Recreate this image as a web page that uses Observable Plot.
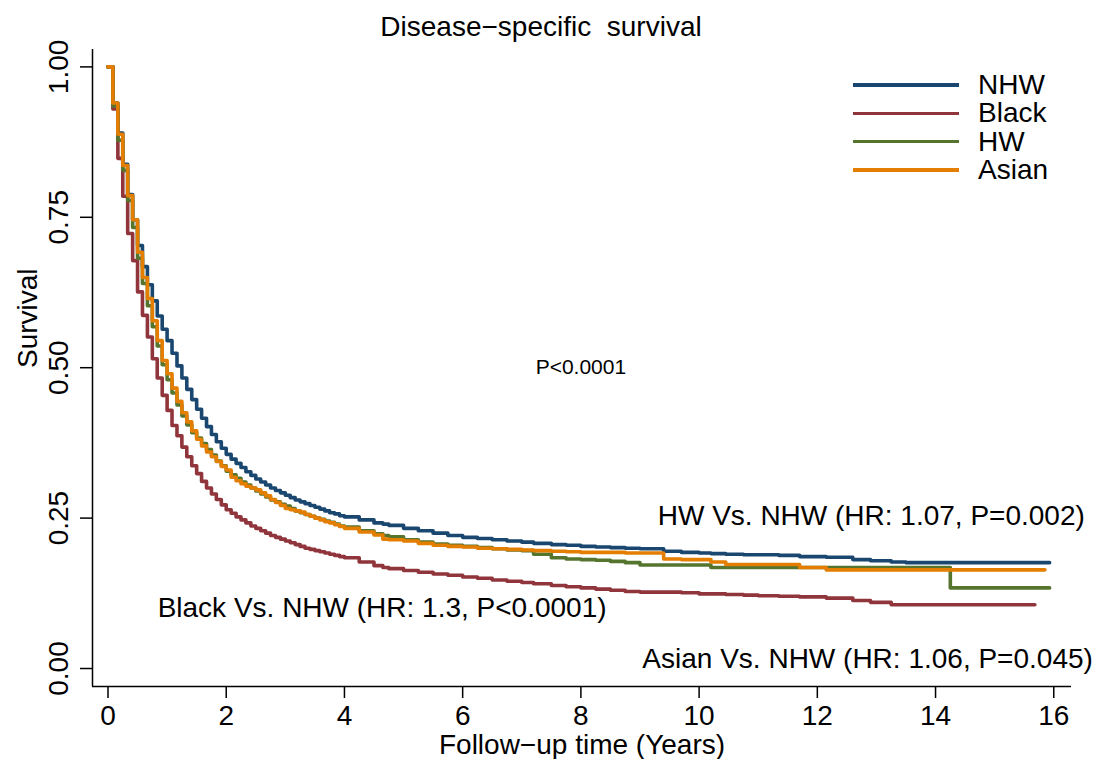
<!DOCTYPE html>
<html>
<head>
<meta charset="utf-8">
<script src="https://cdn.jsdelivr.net/npm/d3@7"></script>
<script src="https://cdn.jsdelivr.net/npm/@observablehq/plot@0.6"></script>
<style>
  body { margin: 0; background: #fff; }
  #wrap { position: relative; width: 1096px; height: 759px; font-family: "Liberation Sans", Arial, Helvetica, sans-serif; }
  #legend { position: absolute; left: 853px; top: 71px; }
  .row { display: flex; align-items: center; height: 28.3px; }
  .swatch { width: 106px; height: 3.5px; margin-right: 19px; }
  .lab { font-size: 28px; line-height: 28px; color: #000; }
  svg text { white-space: pre; }
</style>
</head>
<body>
<div id="wrap"><div id="legend"></div></div>
<script>
// ---- data ----
const groups = ["NHW", "Black", "HW", "Asian"];
const colors = ["#1a476f", "#90353b", "#55752f", "#e37e00"];

const xTicks = [0, 2, 4, 6, 8, 10, 12, 14, 16];
const yTicks = [0, 0.25, 0.5, 0.75, 1];

// follow-up time grid (years): monthly to 4 years, then sparser
const timeYears = [
  0, 0.083, 0.167, 0.25, 0.333, 0.417, 0.5, 0.583, 0.667, 0.75, 0.833, 0.917,
  1, 1.083, 1.167, 1.25, 1.333, 1.417, 1.5, 1.583, 1.667, 1.75, 1.833, 1.917,
  2, 2.083, 2.167, 2.25, 2.333, 2.417, 2.5, 2.583, 2.667, 2.75, 2.833, 2.917,
  3, 3.083, 3.167, 3.25, 3.333, 3.417, 3.5, 3.583, 3.667, 3.75, 3.833, 3.917,
  4,
  4.25, 4.5, 4.65, 4.75, 5, 5.25, 5.5, 5.75, 6, 6.25, 6.5, 6.75,
  7, 7.2, 7.5, 7.75, 8, 8.25, 8.5, 8.75, 9, 9.4, 9.7,
  10, 10.2, 10.45, 10.75, 11, 11.35, 11.7, 12.15, 12.6, 12.9,
  13.25, 13.5, 14, 14.25, 15, 15.68, 15.85, 15.93
];

const survNHW = [
  1.000, 0.940, 0.890, 0.838, 0.788, 0.746, 0.703, 0.668, 0.638, 0.611, 0.586, 0.564,
  0.545, 0.524, 0.503, 0.483, 0.464, 0.447, 0.431, 0.416, 0.402, 0.389, 0.377, 0.366,
  0.356, 0.348, 0.341, 0.334, 0.327, 0.321, 0.315, 0.310, 0.305, 0.300, 0.296, 0.292,
  0.288, 0.284, 0.280, 0.277, 0.274, 0.271, 0.268, 0.265, 0.262, 0.259, 0.257, 0.254,
  0.252,
  0.247, 0.242, 0.240, 0.238, 0.233, 0.229, 0.225, 0.221, 0.218, 0.216, 0.214, 0.212,
  0.210, 0.208, 0.206, 0.205, 0.203, 0.202, 0.201, 0.200, 0.199, 0.195, 0.193,
  0.192, 0.191, 0.190, 0.189, 0.189, 0.188, 0.186, 0.185, 0.181, 0.179,
  0.177, 0.176, 0.176, 0.176, 0.176, 0.176, 0.176, 0.176
];

const survBlack = [
  1.000, 0.930, 0.848, 0.785, 0.723, 0.678, 0.626, 0.587, 0.551, 0.515, 0.483, 0.454,
  0.429, 0.404, 0.387, 0.368, 0.352, 0.337, 0.324, 0.311, 0.300, 0.290, 0.281, 0.272,
  0.264, 0.258, 0.252, 0.247, 0.242, 0.237, 0.233, 0.229, 0.225, 0.221, 0.218, 0.215,
  0.212, 0.209, 0.206, 0.203, 0.200, 0.198, 0.196, 0.194, 0.192, 0.190, 0.188, 0.186,
  0.184,
  0.177, 0.171, 0.168, 0.166, 0.163, 0.160, 0.157, 0.155, 0.152, 0.150, 0.147, 0.145,
  0.143, 0.141, 0.138, 0.136, 0.134, 0.132, 0.130, 0.128, 0.127, 0.127, 0.126,
  0.124, 0.124, 0.123, 0.122, 0.121, 0.120, 0.119, 0.117, 0.113, 0.110,
  0.106, 0.106, 0.106, 0.106, 0.106, 0.106, null, null
];

const survHW = [
  1.000, 0.935, 0.878, 0.828, 0.778, 0.733, 0.682, 0.640, 0.603, 0.568, 0.536, 0.505,
  0.480, 0.458, 0.438, 0.420, 0.405, 0.392, 0.383, 0.374, 0.364, 0.355, 0.345, 0.337,
  0.328, 0.322, 0.316, 0.310, 0.305, 0.300, 0.295, 0.290, 0.285, 0.280, 0.277, 0.273,
  0.270, 0.266, 0.262, 0.259, 0.256, 0.253, 0.250, 0.248, 0.245, 0.243, 0.240, 0.237,
  0.235,
  0.229, 0.224, 0.221, 0.219, 0.214, 0.210, 0.207, 0.205, 0.203, 0.201, 0.199, 0.197,
  0.196, 0.190, 0.184, 0.182, 0.181, 0.180, 0.178, 0.176, 0.172, 0.172, 0.172,
  0.172, 0.168, 0.168, 0.168, 0.168, 0.168, 0.168, 0.168, 0.168, 0.168,
  0.168, 0.168, 0.168, 0.134, 0.134, 0.134, 0.134, 0.134
];

const survAsian = [
  1.000, 0.940, 0.888, 0.836, 0.786, 0.746, 0.692, 0.650, 0.615, 0.578, 0.545, 0.512,
  0.490, 0.466, 0.444, 0.425, 0.410, 0.395, 0.381, 0.370, 0.360, 0.352, 0.344, 0.336,
  0.330, 0.318, 0.312, 0.307, 0.303, 0.300, 0.297, 0.292, 0.287, 0.281, 0.276, 0.271,
  0.266, 0.264, 0.262, 0.260, 0.256, 0.253, 0.250, 0.247, 0.244, 0.242, 0.239, 0.236,
  0.233,
  0.227, 0.222, 0.215, 0.214, 0.212, 0.208, 0.205, 0.203, 0.202, 0.200, 0.199, 0.198,
  0.197, 0.196, 0.195, 0.194, 0.193, 0.193, 0.193, 0.192, 0.192, 0.182, 0.181,
  0.181, 0.177, 0.173, 0.173, 0.173, 0.173, 0.168, 0.164, 0.164, 0.164,
  0.164, 0.164, 0.164, 0.164, 0.164, 0.164, 0.164, null
];

const comparisonLabels = [
  "HW Vs. NHW (HR: 1.07, P=0.002)",
  "Black Vs. NHW (HR: 1.3, P<0.0001)",
  "Asian Vs. NHW (HR: 1.06, P=0.045)"
];
const pValueLabel = "P<0.0001";
const titleText = "Disease\u2212specific  survival";
const xTitle = "Follow\u2212up time (Years)";
const yTitle = "Survival";

// ---- build table ----
const series = [survNHW, survBlack, survHW, survAsian];
const rows = [];
groups.forEach((g, gi) => {
  timeYears.forEach((t, i) => {
    const s = series[gi][i];
    if (s != null) rows.push({group: g, t, s});
  });
});

const font = "\"Liberation Sans\", Arial, Helvetica, sans-serif";
const xDom = [-0.2622, 16.3];
const yDom = [-0.0299, 1.0289];

const chart = Plot.plot({
  width: 1096,
  height: 759,
  marginLeft: 92,
  marginRight: 25,
  marginTop: 49,
  marginBottom: 73,
  style: {fontFamily: font, fontSize: "28px", background: "white", color: "black", overflow: "visible"},
  x: {domain: xDom},
  y: {domain: yDom},
  color: {domain: groups, range: colors},
  marks: [
    Plot.ruleX([xDom[0]], {stroke: "black", strokeWidth: 1.5}),
    Plot.ruleY([yDom[0]], {stroke: "black", strokeWidth: 1.5}),
    Plot.axisX({ticks: xTicks, tickSize: 12, tickPadding: 7, fontSize: 28, label: null, strokeWidth: 1.5}),
    Plot.axisY({ticks: yTicks, tickSize: 12, tickPadding: 13, tickRotate: -90, tickFormat: d3.format(".2f"), fontSize: 28, label: null, strokeWidth: 1.5}),
    Plot.line(rows, {x: "t", y: "s", z: "group", stroke: "group", curve: "step-after", strokeWidth: 3.6}),
    Plot.text([pValueLabel], {x: 8, y: 0.5, fontSize: 21, textAnchor: "middle"}),
    Plot.text([comparisonLabels[0]], {x: 9.3, y: 0.254, textAnchor: "start", fontSize: 28}),
    Plot.text([comparisonLabels[1]], {x: 0.84, y: 0.1, textAnchor: "start", fontSize: 28}),
    Plot.text([comparisonLabels[2]], {x: 9.04, y: 0.015, textAnchor: "start", fontSize: 28}),
    Plot.text([titleText], {frameAnchor: "top", dx: -41, dy: -22, lineAnchor: "middle", fontSize: 28}),
    Plot.text([xTitle], {frameAnchor: "bottom", dy: 59, lineAnchor: "middle", fontSize: 28}),
    Plot.text([yTitle], {frameAnchor: "left", dx: -64, rotate: -90, lineAnchor: "middle", fontSize: 28})
  ]
});

const wrap = document.getElementById("wrap");
wrap.insertBefore(chart, wrap.firstChild);

const legend = document.getElementById("legend");
groups.forEach((g, i) => {
  const row = document.createElement("div");
  row.className = "row";
  const sw = document.createElement("div");
  sw.className = "swatch";
  sw.style.background = colors[i];
  const lab = document.createElement("span");
  lab.className = "lab";
  lab.textContent = g;
  row.appendChild(sw);
  row.appendChild(lab);
  legend.appendChild(row);
});
</script>
</body>
</html>
